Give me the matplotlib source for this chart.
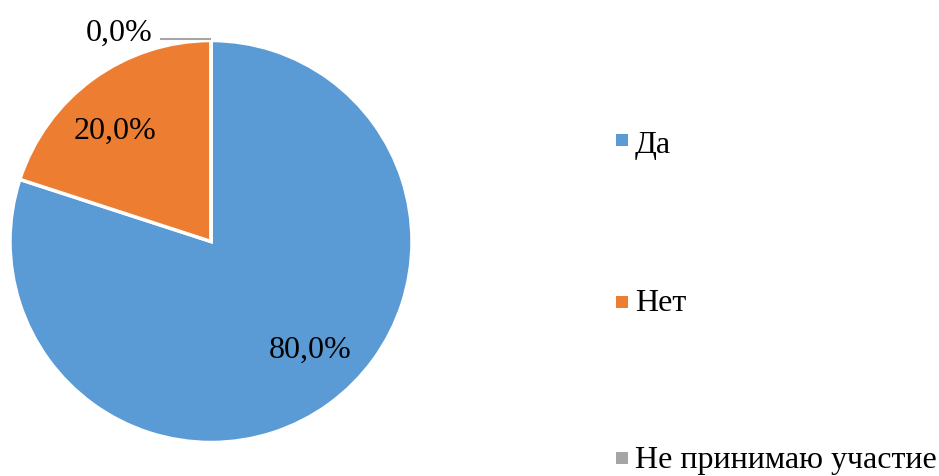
import matplotlib
matplotlib.use("Agg")
import matplotlib.pyplot as plt
from matplotlib.patches import Rectangle

categories = ["Да", "Нет", "Не принимаю участие"]
values = [80.0, 20.0, 0.0]
labels = ["80,0%", "20,0%", "0,0%"]
colors = ["#5B9BD5", "#ED7D31", "#A5A5A5"]

W, H = 939, 477
plt.rcParams['font.family'] = ['Liberation Serif', 'DejaVu Serif']

fig = plt.figure(figsize=(W / 100, H / 100), dpi=100)
ax = fig.add_axes([0, 0, 1, 1])

cx, cy, r = 211, H - 242.5, 201
ax.pie(values, colors=colors, startangle=90, counterclock=False,
       center=(cx, cy), radius=r, frame=True,
       wedgeprops=dict(edgecolor='white', linewidth=2.5))
ax.set_xlim(0, W)
ax.set_ylim(0, H)
ax.set_aspect('equal')
ax.axis('off')

fs = 23
# data labels
ax.text(310, H - 350, labels[0], fontsize=fs, ha='center', va='center', color='black')
ax.text(115, H - 131, labels[1], fontsize=fs, ha='center', va='center', color='black')
ax.text(119, H - 33, labels[2], fontsize=fs, ha='center', va='center', color='black')
ax.plot([160, 211], [H - 40, H - 40], color='#A5A5A5', linewidth=1.5, solid_capstyle='butt')

# legend
sq_y = [141, 303, 459]
base_y = [153, 311, 468]
for cat, col, y, b in zip(categories, colors, sq_y, base_y):
    ax.add_patch(Rectangle((616, H - y - 6), 12, 12, facecolor=col, edgecolor='none'))
    ax.text(635, H - b, cat, fontsize=fs, ha='left', va='baseline', color='black')

fig.savefig("out.png", dpi=100)
